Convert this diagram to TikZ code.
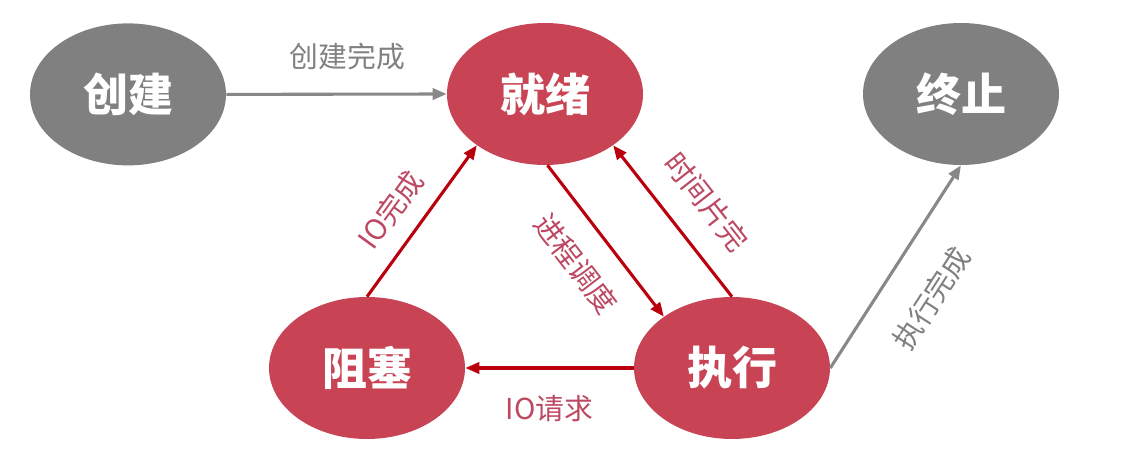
\documentclass[tikz,border=0pt]{standalone}
\usepackage{fontspec}
\setmainfont{Noto Sans CJK SC}
\usetikzlibrary{positioning,arrows.meta,shapes.geometric}

\definecolor{stred}{RGB}{200,68,85}
\definecolor{stgray}{RGB}{128,128,128}
\definecolor{arred}{RGB}{185,0,12}
\definecolor{argray}{RGB}{136,136,136}
\definecolor{lbred}{RGB}{188,72,98}
\definecolor{lbgray}{RGB}{128,128,128}

\begin{document}
\begin{tikzpicture}[
  >={Triangle[length=10pt,width=8pt]},
  state/.style={ellipse, minimum width=4.9cm, minimum height=3.55cm, inner sep=0pt,
                text=white, font=\fontsize{32}{36}\selectfont\bfseries},
  active/.style={state, fill=stred},
  idle/.style={state, fill=stgray},
  flow/.style={->, line width=2.2pt, draw=arred},
  gflow/.style={->, line width=2.2pt, draw=argray},
  lbl/.style={font=\fontsize{20.5}{24}\selectfont, inner sep=1pt, text=lbred},
  glbl/.style={lbl, text=lbgray},
]
\useasboundingbox (0,0) rectangle (28.025,11.6);

% ---------------- states (top row) ----------------
\node[idle]   (new)   at (3.2,9.24)    {创建};
\node[active] (ready) at (13.625,9.25) {就绪};
\node[idle]   (term)  at (24.025,9.25) {终止};

% ---------------- states (bottom row) ----------------
\node[active] (blocked) at (9.175,2.4) {阻塞};
\node[active] (run)     at (18.3,2.4)  {执行};

% ---------------- transitions ----------------
\draw[gflow] (new.east) -- node[glbl,above=15pt,pos=0.55]{创建完成} (ready.west);
\draw[flow] (blocked.north) -- node[lbl,sloped,above=11pt,pos=0.45]{IO完成} (ready.217);
\draw[flow] (ready.-88) -- node[lbl,sloped,below=15pt]{进程调度} (run.143);
\draw[flow] (run.north) -- node[lbl,sloped,above=16pt,pos=0.47]{时间片完} (ready.-37);
\draw[flow] (run.west) -- node[lbl,below=17pt]{IO请求} (blocked.east);
\draw[gflow] (run.east) -- node[glbl,sloped,below=22pt,pos=0.47]{执行完成} (term.south);

\end{tikzpicture}
\end{document}
